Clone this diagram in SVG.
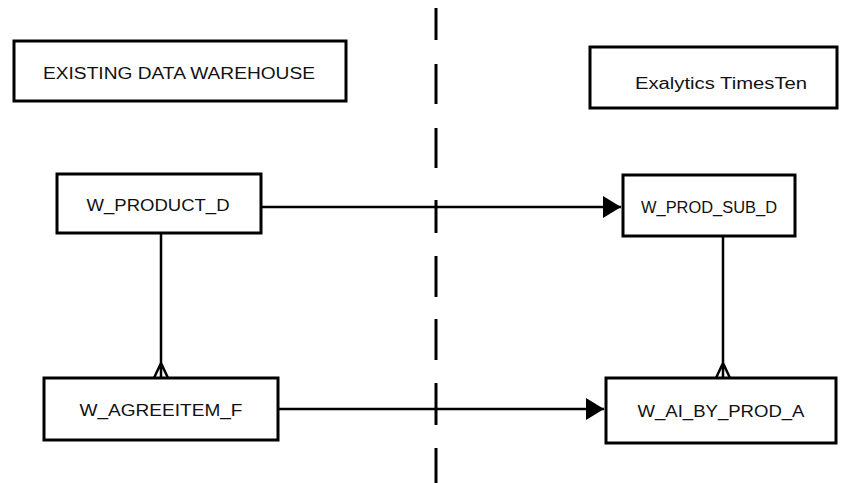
<svg xmlns="http://www.w3.org/2000/svg" width="845" height="483" viewBox="0 0 845 483">
<style>
.box{fill:#fff;stroke:#000;stroke-width:3}
.t{font-family:"Liberation Sans",Arial,sans-serif;font-size:16px;fill:#111;text-anchor:middle;dominant-baseline:central}
.c{fill:none;stroke:#000;stroke-width:2.5}
.d{fill:none;stroke:#000;stroke-width:3}
</style>
<defs>
<marker id="arr" markerUnits="userSpaceOnUse" markerWidth="20" markerHeight="22" refX="18" refY="11" orient="auto">
<path d="M0,0 L18,11 L0,22 Z" fill="#000"/>
</marker>
</defs>
<path class="d" d="M436,8 V40 M436,64 V104 M436,128 V168 M436,200 V233 M436,256 V297 M436,319 V360 M436,383 V425 M436,448 V483"/>
<g id="existing"><rect class="box" x="14" y="41" width="332" height="60"/><text class="t" x="179" y="73" textLength="272" lengthAdjust="spacingAndGlyphs">EXISTING DATA WAREHOUSE</text></g>
<g id="exalytics"><rect class="box" x="590" y="47" width="247" height="61"/><text class="t" x="721" y="83" textLength="172" lengthAdjust="spacingAndGlyphs">Exalytics TimesTen</text></g>
<g id="w_product_d"><rect class="box" x="57" y="174" width="204" height="59"/><text class="t" x="158" y="205" textLength="143" lengthAdjust="spacingAndGlyphs">W_PRODUCT_D</text></g>
<g id="w_prod_sub_d"><rect class="box" x="623" y="175" width="172" height="61"/><text class="t" x="709" y="207" textLength="136" lengthAdjust="spacingAndGlyphs">W_PROD_SUB_D</text></g>
<g id="w_agreeitem_f"><rect class="box" x="44" y="378" width="234" height="62"/><text class="t" x="161" y="410" textLength="163" lengthAdjust="spacingAndGlyphs">W_AGREEITEM_F</text></g>
<g id="w_ai_by_prod_a"><rect class="box" x="606" y="378" width="230" height="65"/><text class="t" x="721" y="411" textLength="167" lengthAdjust="spacingAndGlyphs">W_AI_BY_PROD_A</text></g>
<g id="connectors">
<path class="c" d="M261,207 H621" marker-end="url(#arr)"/>
<path class="c" d="M278,409 H604" marker-end="url(#arr)"/>
<path class="c" d="M161,233 V378 M161,363 L154,378 M161,363 L168,378"/>
<path class="c" d="M723,236 V378 M723,363 L716,378 M723,363 L730,378"/>
</g>
</svg>
